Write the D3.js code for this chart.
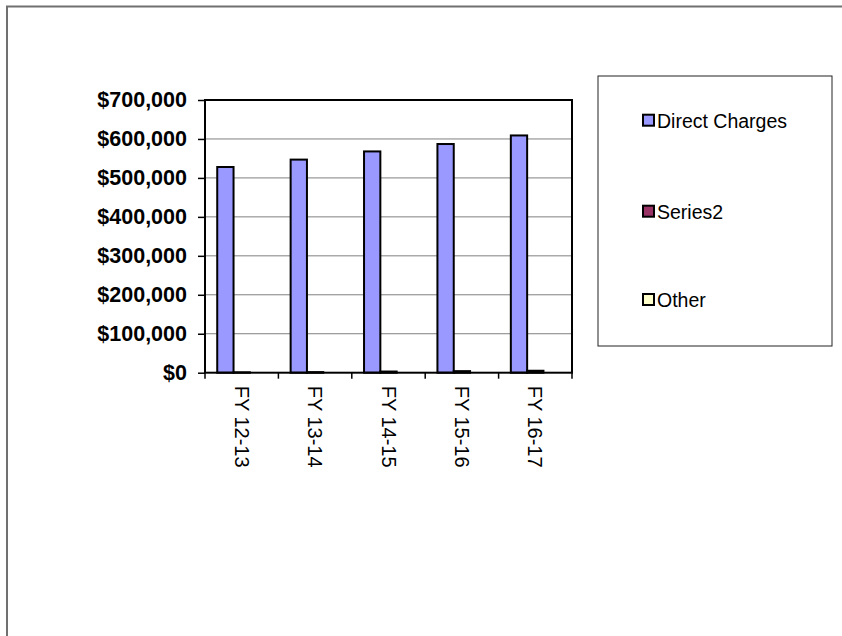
<!DOCTYPE html>
<html>
<head>
<meta charset="utf-8">
<script src="https://cdn.jsdelivr.net/npm/d3@7"></script>
<style>
  html, body { margin: 0; padding: 0; background: #fff; }
  svg { display: block; font-family: Arial, "Liberation Sans", sans-serif; }
</style>
</head>
<body>
<svg id="chart" width="842" height="636"></svg>
<script>
// ---- data ----
const categories = ["FY 12-13", "FY 13-14", "FY 14-15", "FY 15-16", "FY 16-17"];
const seriesNames = ["Direct Charges", "Series2", "Other"];
const directCharges = [528000, 547000, 568000, 587000, 609000];
const series2 = [1000, 1500, 3000, 4000, 5000];
const other = [0, 0, 0, 0, 0];
const seriesColors = ["#9999FF", "#993366", "#FFFFCC"];
const yTicks = [0, 100000, 200000, 300000, 400000, 500000, 600000, 700000];

const seriesValues = [directCharges, series2, other];

// ---- layout ----
const plot = { left: 205, top: 100, right: 572, bottom: 372.7 };

const svg = d3.select("#chart");

// outer chart frame (extends past bottom/right of view)
svg.append("path")
  .attr("d", "M7,650 L7,6.5 L850,6.5")
  .attr("fill", "none")
  .attr("stroke", "#707070")
  .attr("stroke-width", 2);

const x0 = d3.scaleBand().domain(categories).range([plot.left, plot.right]).padding(0);
const x1 = d3.scaleBand().domain(seriesNames).range([0, x0.bandwidth()])
  .paddingInner(0).paddingOuter(0.75);
const y = d3.scaleLinear().domain([0, 700000]).range([plot.bottom, plot.top]);

// gridlines
svg.append("g")
  .selectAll("line")
  .data(yTicks.filter(d => d > 0 && d < 700000))
  .join("line")
  .attr("x1", plot.left).attr("x2", plot.right)
  .attr("y1", d => y(d)).attr("y2", d => y(d))
  .attr("stroke", "#808080").attr("stroke-width", 1);

// bars
const groups = svg.append("g")
  .selectAll("g")
  .data(categories)
  .join("g")
  .attr("transform", d => `translate(${x0(d)},0)`);

groups.selectAll("rect")
  .data((c, i) => seriesNames.map((s, j) => ({ s, j, v: seriesValues[j][i] })).filter(d => d.v > 0))
  .join("rect")
  .attr("x", d => x1(d.s))
  .attr("width", x1.bandwidth())
  .attr("y", d => y(d.v))
  .attr("height", d => y(0) - y(d.v))
  .attr("fill", d => seriesColors[d.j])
  .attr("stroke", "#000")
  .attr("stroke-width", 2);

// plot border
svg.append("rect")
  .attr("x", plot.left).attr("y", plot.top)
  .attr("width", plot.right - plot.left).attr("height", plot.bottom - plot.top)
  .attr("fill", "none").attr("stroke", "#000").attr("stroke-width", 2);

// y axis
const yAxis = d3.axisLeft(y)
  .tickValues(yTicks)
  .tickSize(7)
  .tickPadding(11)
  .tickFormat(d => "$" + d3.format(",")(d));
const yg = svg.append("g").attr("transform", `translate(${plot.left},0)`).call(yAxis);
yg.select(".domain").remove();
yg.selectAll(".tick line").attr("stroke", "#000").attr("stroke-width", 1.5);
yg.selectAll(".tick text")
  .attr("font-size", 21.5).attr("font-weight", "bold").attr("fill", "#000")
  .attr("font-family", 'Arial, "Liberation Sans", sans-serif');

// x axis ticks at category boundaries
const boundaries = categories.map(c => x0(c)).concat([plot.right]);
svg.append("g").selectAll("line")
  .data(boundaries)
  .join("line")
  .attr("x1", d => d).attr("x2", d => d)
  .attr("y1", plot.bottom).attr("y2", plot.bottom + 6)
  .attr("stroke", "#000").attr("stroke-width", 1.5);

// x labels rotated
svg.append("g").selectAll("text")
  .data(categories)
  .join("text")
  .attr("transform", d => `translate(${x0(d) + x0.bandwidth() / 2},${plot.bottom + 13}) rotate(90)`)
  .attr("dy", "0.35em")
  .attr("text-anchor", "start")
  .attr("font-size", 20)
  .attr("fill", "#000")
  .text(d => d);

// legend
const legend = svg.append("g");
legend.append("rect")
  .attr("x", 598).attr("y", 76).attr("width", 234).attr("height", 270)
  .attr("fill", "#fff").attr("stroke", "#222").attr("stroke-width", 1);
const legendY = [120.7, 211.7, 300];
const items = legend.selectAll("g.item")
  .data(seriesNames)
  .join("g")
  .attr("class", "item")
  .attr("transform", (d, i) => `translate(643,${legendY[i]})`);
items.append("rect")
  .attr("x", 0).attr("y", -6).attr("width", 11).attr("height", 11)
  .attr("fill", (d, i) => seriesColors[i])
  .attr("stroke", "#000").attr("stroke-width", 2);
items.append("text")
  .attr("x", 14).attr("dy", "0.35em")
  .attr("font-size", 19.5).attr("fill", "#000")
  .text(d => d);
</script>
</body>
</html>
